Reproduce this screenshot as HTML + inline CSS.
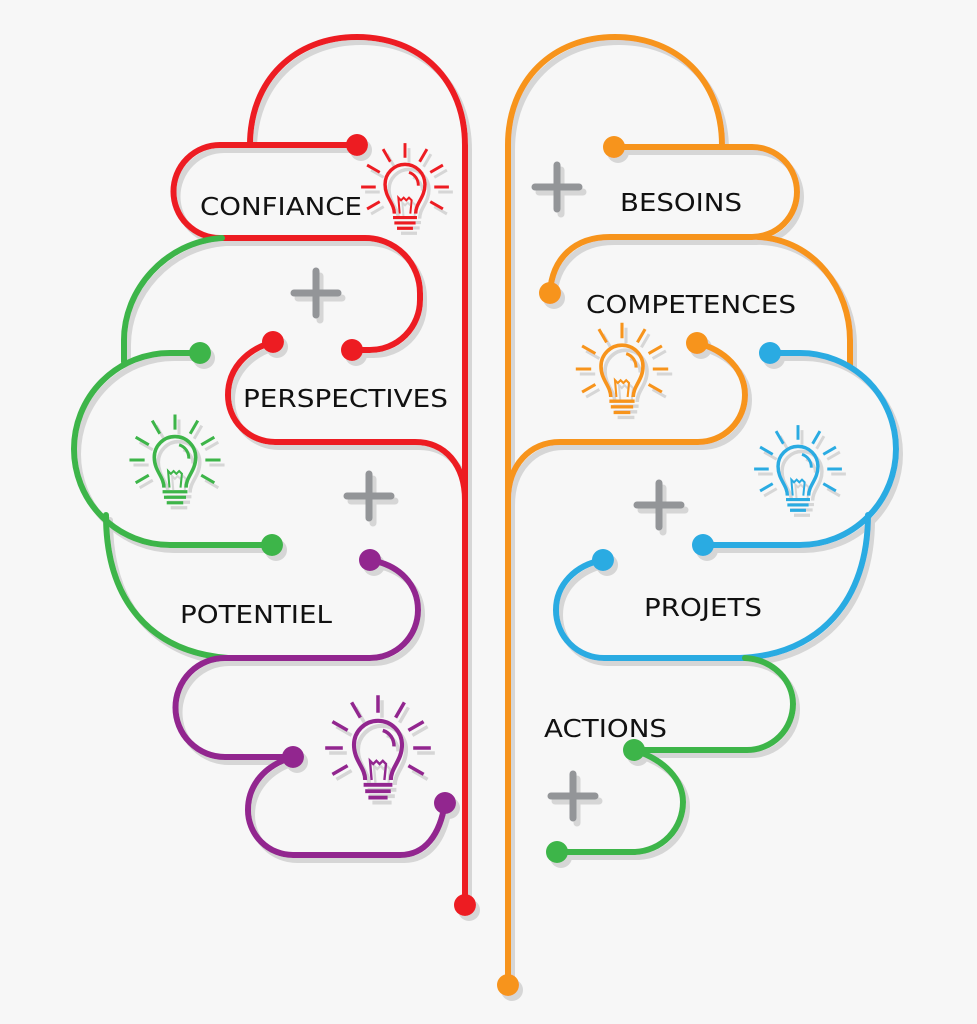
<!DOCTYPE html>
<html><head><meta charset="utf-8"><style>
html,body{margin:0;padding:0;background:#f7f7f7;}
svg{display:block;}
text{font-family:"DejaVu Sans","Liberation Sans",sans-serif;font-size:25px;fill:#111;}
</style></head><body>
<svg width="977" height="1024" viewBox="0 0 977 1024" xmlns="http://www.w3.org/2000/svg">
<defs>
<filter id="sh" x="-10%" y="-10%" width="120%" height="120%">
<feOffset in="SourceAlpha" dx="4" dy="5" result="o"/>
<feFlood flood-color="#d6d6d6"/>
<feComposite in2="o" operator="in" result="s"/>
<feMerge><feMergeNode in="s"/><feMergeNode in="SourceGraphic"/></feMerge>
</filter>
<g id="bulb" fill="none" stroke-linecap="butt">
<path d="M-8,20 C-8,12 -15,8 -15,-2 A15,15 0 1 1 15,-2 C15,8 8,12 8,20" stroke-width="2.6"/>
<path d="M-4,20 L-5,8 L-3,10 L-1,8 L1,10 L3,8 L5,10 L4,20" stroke-width="1.5"/>
<path d="M3,-11 A10,10 0 0 1 10,-1" stroke-width="2.2"/>
<path d="M-9,23 H9 M-8,27 H8 M-6,31 H6" stroke-width="2.4"/>
<path d="M0,-22 V-33 M11,-19 L16.5,-28.5 M19,-11 L28.5,-16.5 M22,0 H33 M19,11 L28.5,16.5 M-11,-19 L-16.5,-28.5 M-19,-11 L-28.5,-16.5 M-22,0 H-33 M-19,11 L-28.5,16.5" stroke-width="2.2"/>
</g>
<g id="plus"><path d="M-22,0 H22 M0,-22 V22" stroke="#939598" stroke-width="7" fill="none"/></g>
</defs>
<rect width="977" height="1024" fill="#f7f7f7"/>
<g filter="url(#sh)" fill="none" stroke-width="6" stroke-linecap="round">
<g stroke="#ed1c24">
<path d="M465,905 L465,145 C465,80 420,37 357,37 C295,37 250,80 250,145"/>
<path d="M357,145 L220,145 A46.5,46.5 0 0 0 220,238 L365,238 A55,55 0 0 1 420,293 L420,300 A50,50 0 0 1 370,350 L352,350"/>
<path d="M273,342 C245,350 228,370 228,395 A47,47 0 0 0 275,442 L415,442 C445,442 465,465 465,500"/>
</g>
<g fill="#ed1c24"><circle cx="465" cy="905" r="11"/><circle cx="357" cy="145" r="11"/><circle cx="352" cy="350" r="11"/><circle cx="273" cy="342" r="11"/></g>
<g stroke="#3db54a">
<path d="M222,238 C165,242 124,290 124,340 L124,362"/>
<path d="M200,353 L170,353 A95,95 0 0 0 170,545 L272,545"/>
<path d="M106,515 C106,600 150,652 228,658"/>
</g>
<g fill="#3db54a"><circle cx="200" cy="353" r="11"/><circle cx="272" cy="545" r="11"/></g>
<g stroke="#92278f">
<path d="M370,560 C400,565 418,585 418,610 A48,48 0 0 1 370,658 L225,658 A49.5,49.5 0 0 0 225,757 L293,757"/>
<path d="M293,757 C265,765 248,785 248,810 A45,45 0 0 0 293,855 L400,855 C425,855 440,835 445,803"/>
</g>
<g fill="#92278f"><circle cx="370" cy="560" r="11"/><circle cx="293" cy="757" r="11"/><circle cx="445" cy="803" r="11"/></g>
<g stroke="#f7941d">
<path d="M508,985 L508,145 C508,80 553,37 615,37 C677,37 722,80 722,145"/>
<path d="M614,147 L752,147 A45,45 0 0 1 752,237 L610,237 C575,237 552,258 550,293"/>
<path d="M758,237 C815,240 850,290 850,340 L850,365"/>
<path d="M697,343 C725,350 745,370 745,395 A47,47 0 0 1 698,442 L560,442 C530,442 508,465 508,500"/>
</g>
<g fill="#f7941d"><circle cx="508" cy="985" r="11"/><circle cx="614" cy="147" r="11"/><circle cx="550" cy="293" r="11"/><circle cx="697" cy="343" r="11"/></g>
<g stroke="#29abe2">
<path d="M770,353 L800,353 A96,96 0 0 1 800,545 L703,545"/>
<path d="M868,515 C868,600 820,655 740,658"/>
<path d="M603,560 C575,565 556,585 556,610 A48,48 0 0 0 604,658 L745,658"/>
</g>
<g fill="#29abe2"><circle cx="770" cy="353" r="11"/><circle cx="703" cy="545" r="11"/><circle cx="603" cy="560" r="11"/></g>
<g stroke="#3db54a">
<path d="M745,658 C775,660 793,682 793,704 A46,46 0 0 1 747,750 L634,750"/>
<path d="M634,750 C665,760 683,780 683,802 A50,50 0 0 1 635,852 L557,852"/>
</g>
<g fill="#3db54a"><circle cx="634" cy="750" r="11"/><circle cx="557" cy="852" r="11"/></g>
<use href="#plus" x="316" y="293"/>
<use href="#plus" x="369" y="496"/>
<use href="#plus" x="557" y="187"/>
<use href="#plus" x="659" y="505"/>
<use href="#plus" x="573" y="796"/>
<use href="#bulb" transform="translate(405,187) scale(1.33)" stroke="#ed1c24"/>
<use href="#bulb" transform="translate(622,369) scale(1.4)" stroke="#f7941d"/>
<use href="#bulb" transform="translate(175,460) scale(1.38)" stroke="#3db54a"/>
<use href="#bulb" transform="translate(798,469) scale(1.33)" stroke="#29abe2"/>
<use href="#bulb" transform="translate(378,748) scale(1.6)" stroke="#92278f"/>
</g>
<text x="200" y="215" textLength="162" lengthAdjust="spacingAndGlyphs">CONFIANCE</text>
<text x="243" y="407" textLength="205" lengthAdjust="spacingAndGlyphs">PERSPECTIVES</text>
<text x="180" y="623" textLength="152" lengthAdjust="spacingAndGlyphs">POTENTIEL</text>
<text x="620" y="211" textLength="122" lengthAdjust="spacingAndGlyphs">BESOINS</text>
<text x="586" y="313" textLength="210" lengthAdjust="spacingAndGlyphs">COMPETENCES</text>
<text x="644" y="616" textLength="118" lengthAdjust="spacingAndGlyphs">PROJETS</text>
<text x="544" y="737" textLength="123" lengthAdjust="spacingAndGlyphs">ACTIONS</text>
</svg>
</body></html>
